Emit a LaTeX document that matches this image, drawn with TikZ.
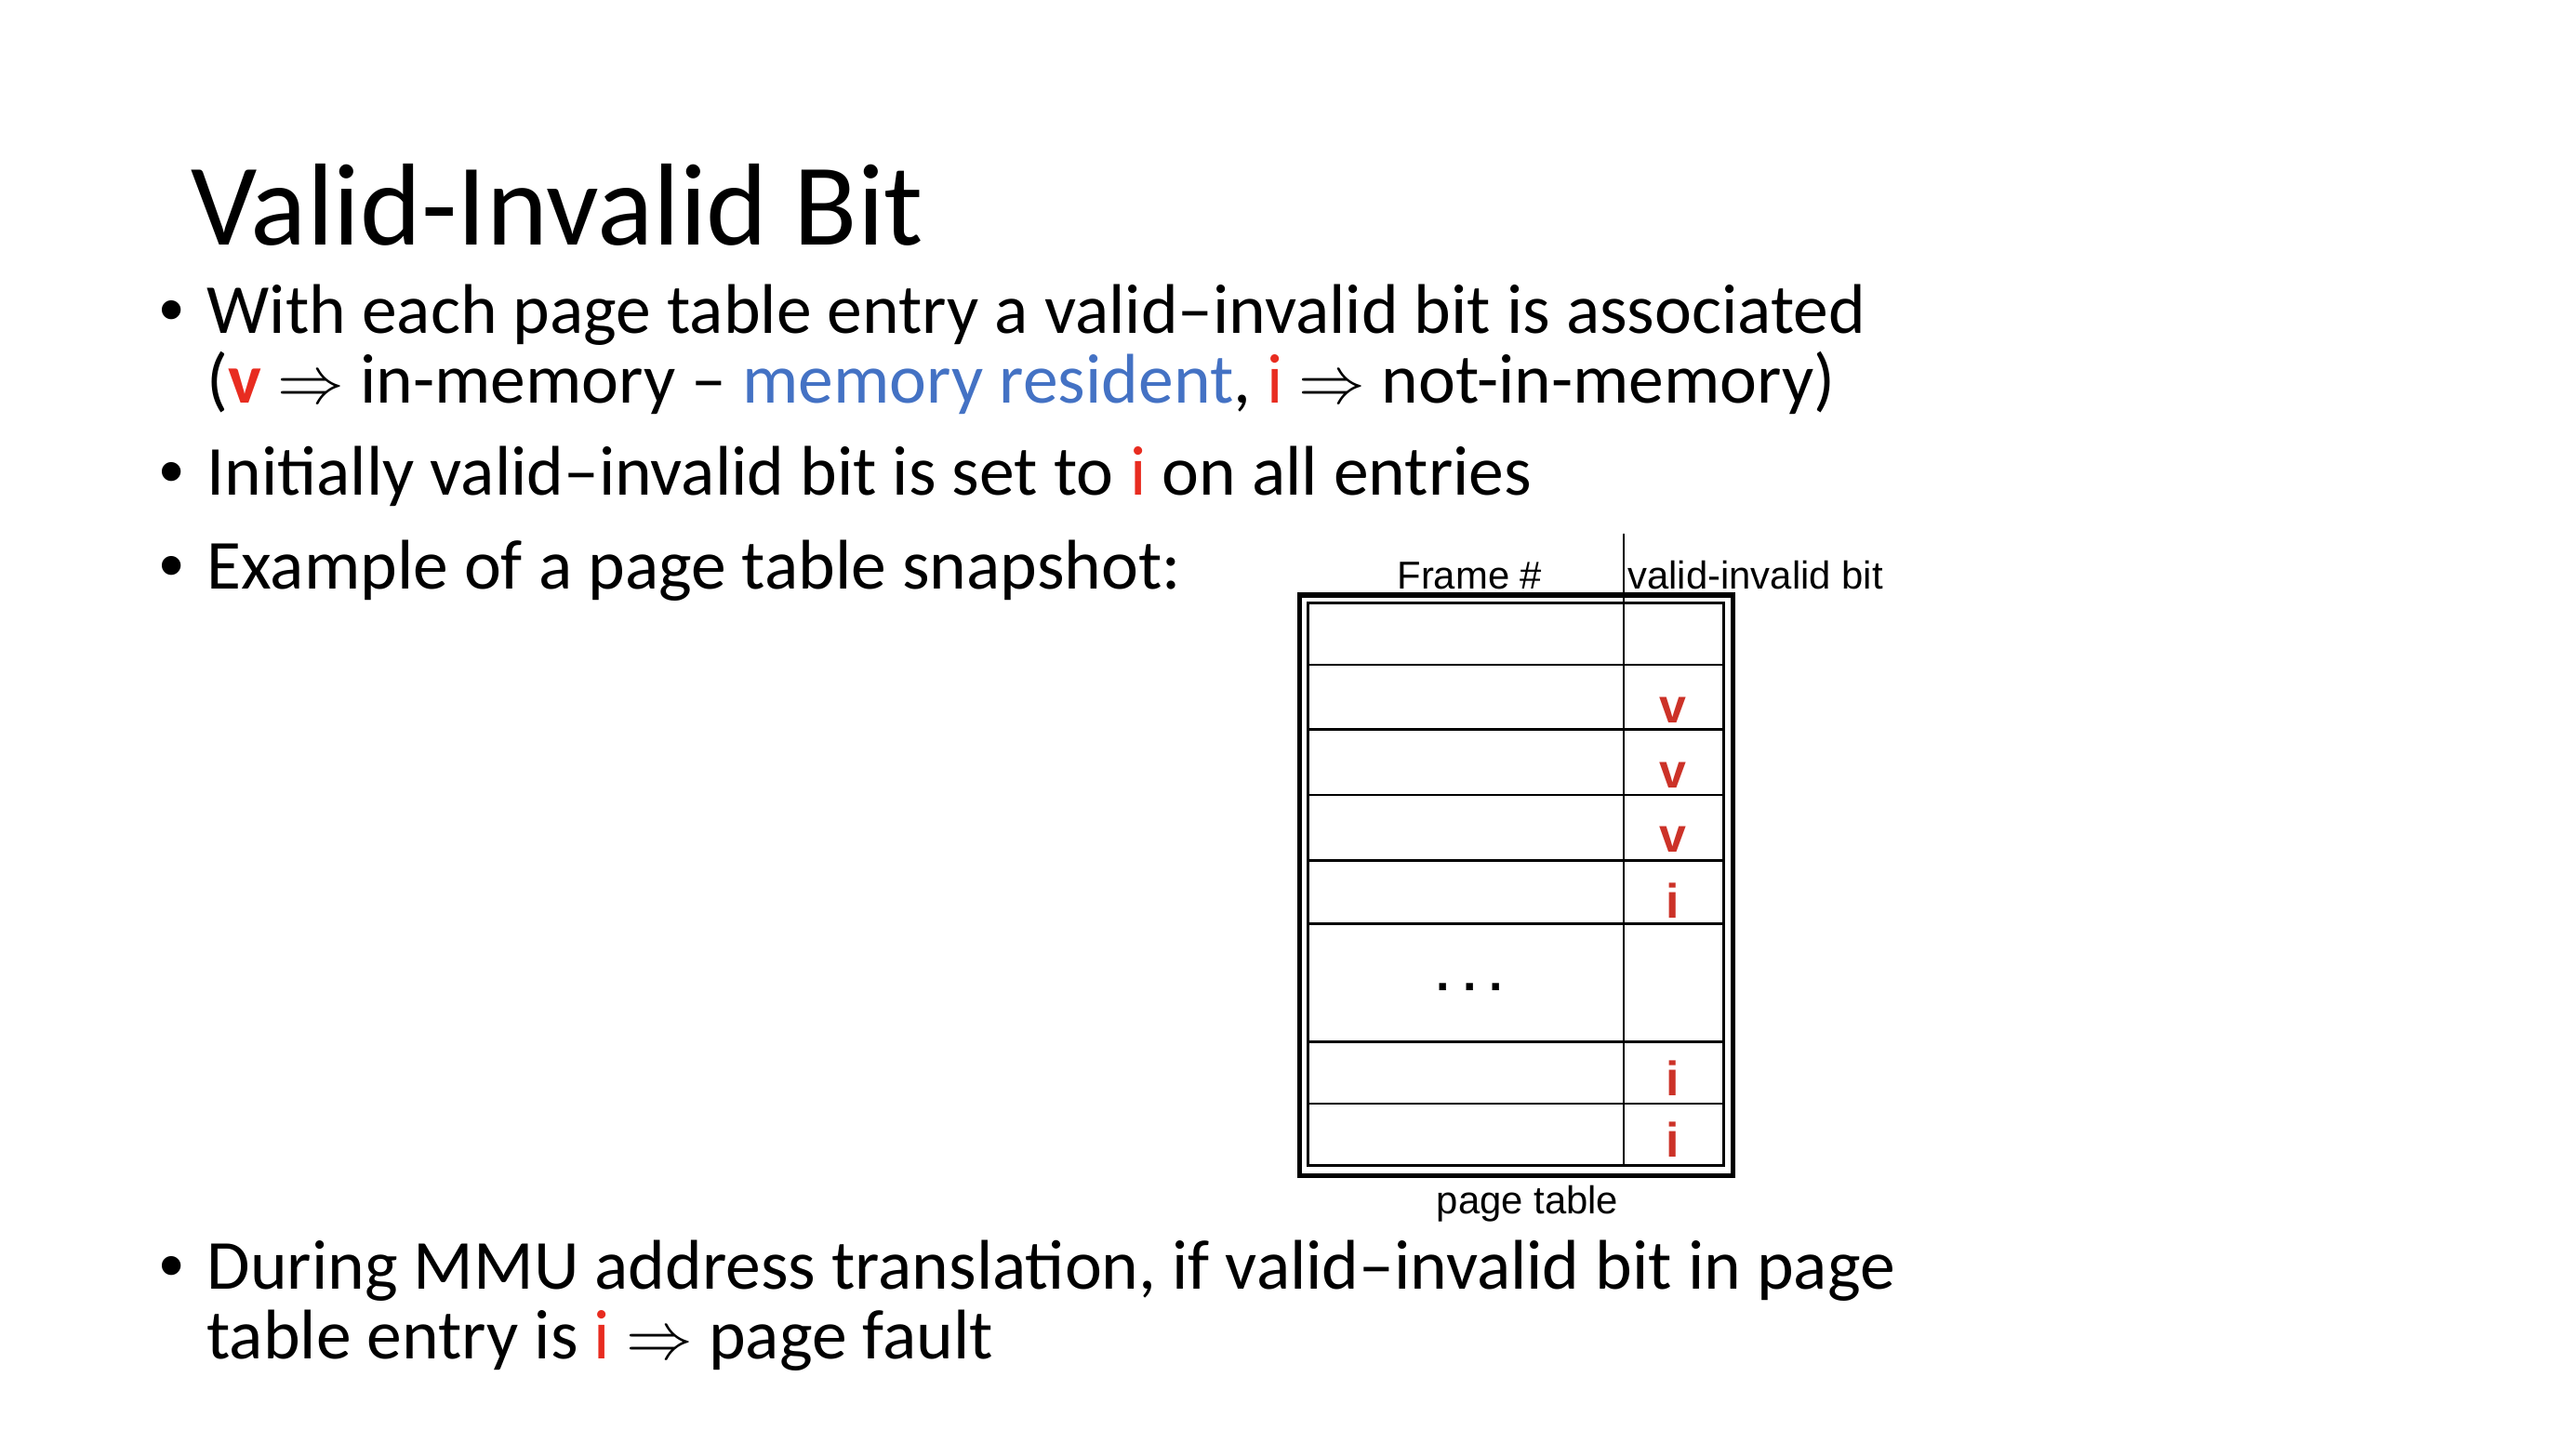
\documentclass[tikz,border=0pt]{standalone}
\usepackage{fontspec}
\setmainfont{Carlito}
\newfontfamily\arialf{Liberation Sans}
\definecolor{vred}{RGB}{232,44,32}
\definecolor{vblue}{RGB}{68,114,196}
\definecolor{tred}{RGB}{204,50,40}
\newcommand{\imp}{\ensuremath{\Rightarrow}}
\newcommand{\twolines}[2]{\vtop{\lineskiplimit=-20pt\hbox{#1}\hbox{#2}}}
\begin{document}
\begin{tikzpicture}[x=0.6154pt,y=-0.6154pt,
  txt/.style={anchor=base west,inner sep=0pt,font=\fontsize{26.2}{25.85}\selectfont},
  bul/.style={anchor=base west,inner sep=0pt,font=\arialf\fontsize{26}{26}\selectfont},
  ttl/.style={anchor=base west,inner sep=0pt,font=\fontsize{43.5}{52}\selectfont},
  hdr/.style={anchor=base,inner sep=0pt,font=\arialf\fontsize{14.5}{16}\selectfont},
  bitv/.style={inner sep=0pt,text=tred,font=\arialf\bfseries\fontsize{18}{20}\selectfont},
  outerbox/.style={line width=1.85pt},
  innerbox/.style={line width=1.1pt},
  rowline/.style={line width=1.0pt},
  divline/.style={line width=0.7pt}]
\useasboundingbox (0,0) rectangle (1560,874);
% title
\node[ttl] (title) at (115.5,148.5) {Valid-Invalid Bit};
% bullets
\node[bul] (bu1) at (96,202) {•};
\node[txt] (t1) at (125,202) {\twolines{With each page table entry a valid–invalid bit is associated}{(\textcolor{vred}{\bfseries v} \imp{} in-memory – \textcolor{vblue}{memory resident}, \textcolor{vred}{i} \imp{} not-in-memory)}};
\node[bul] (bu2) at (96,300) {•};
\node[txt] (t2) at (125,300) {Initially valid–invalid bit is set to \textcolor{vred}{i} on all entries};
\node[bul] (bu3) at (96,357) {•};
\node[txt] (t3) at (125,357) {Example of a page table snapshot:};
\node[bul] (bu4) at (96,781) {•};
\node[txt] (t4) at (125,781) {\twolines{During MMU address translation, if valid–invalid bit in page}{table entry is \textcolor{vred}{i} \imp{} page fault}};
% table
\draw[outerbox] (787,360.5) rectangle (1049.5,712);
\draw[innerbox] (792,365.3) rectangle (1044,706);
\foreach \yy in {402.7,442,481.5,521,559.5,631,668.5}
  \draw[rowline] (792,\yy) -- (1044,\yy);
\draw[divline] (983.5,323) -- (983.5,706);
\node[hdr] (hframe) at (890,357) {Frame \#};
\node[hdr,anchor=base west] (hbit) at (985.5,357) {valid-invalid bit};
\node[bitv] (v1) at (1013,430) {v};
\node[bitv] (v2) at (1013,469.3) {v};
\node[bitv] (v3) at (1013,508.7) {v};
\node[bitv] (i1) at (1013,545.5) {i};
\node[bitv] (i2) at (1013,653) {i};
\node[bitv] (i3) at (1013,690.5) {i};
\node[inner sep=0pt,font=\arialf\bfseries\fontsize{18}{20}\selectfont] (dots) at (890,598) {.\;.\;.};
\node[hdr] (ptab) at (925,735) {page table};
\end{tikzpicture}
\end{document}
